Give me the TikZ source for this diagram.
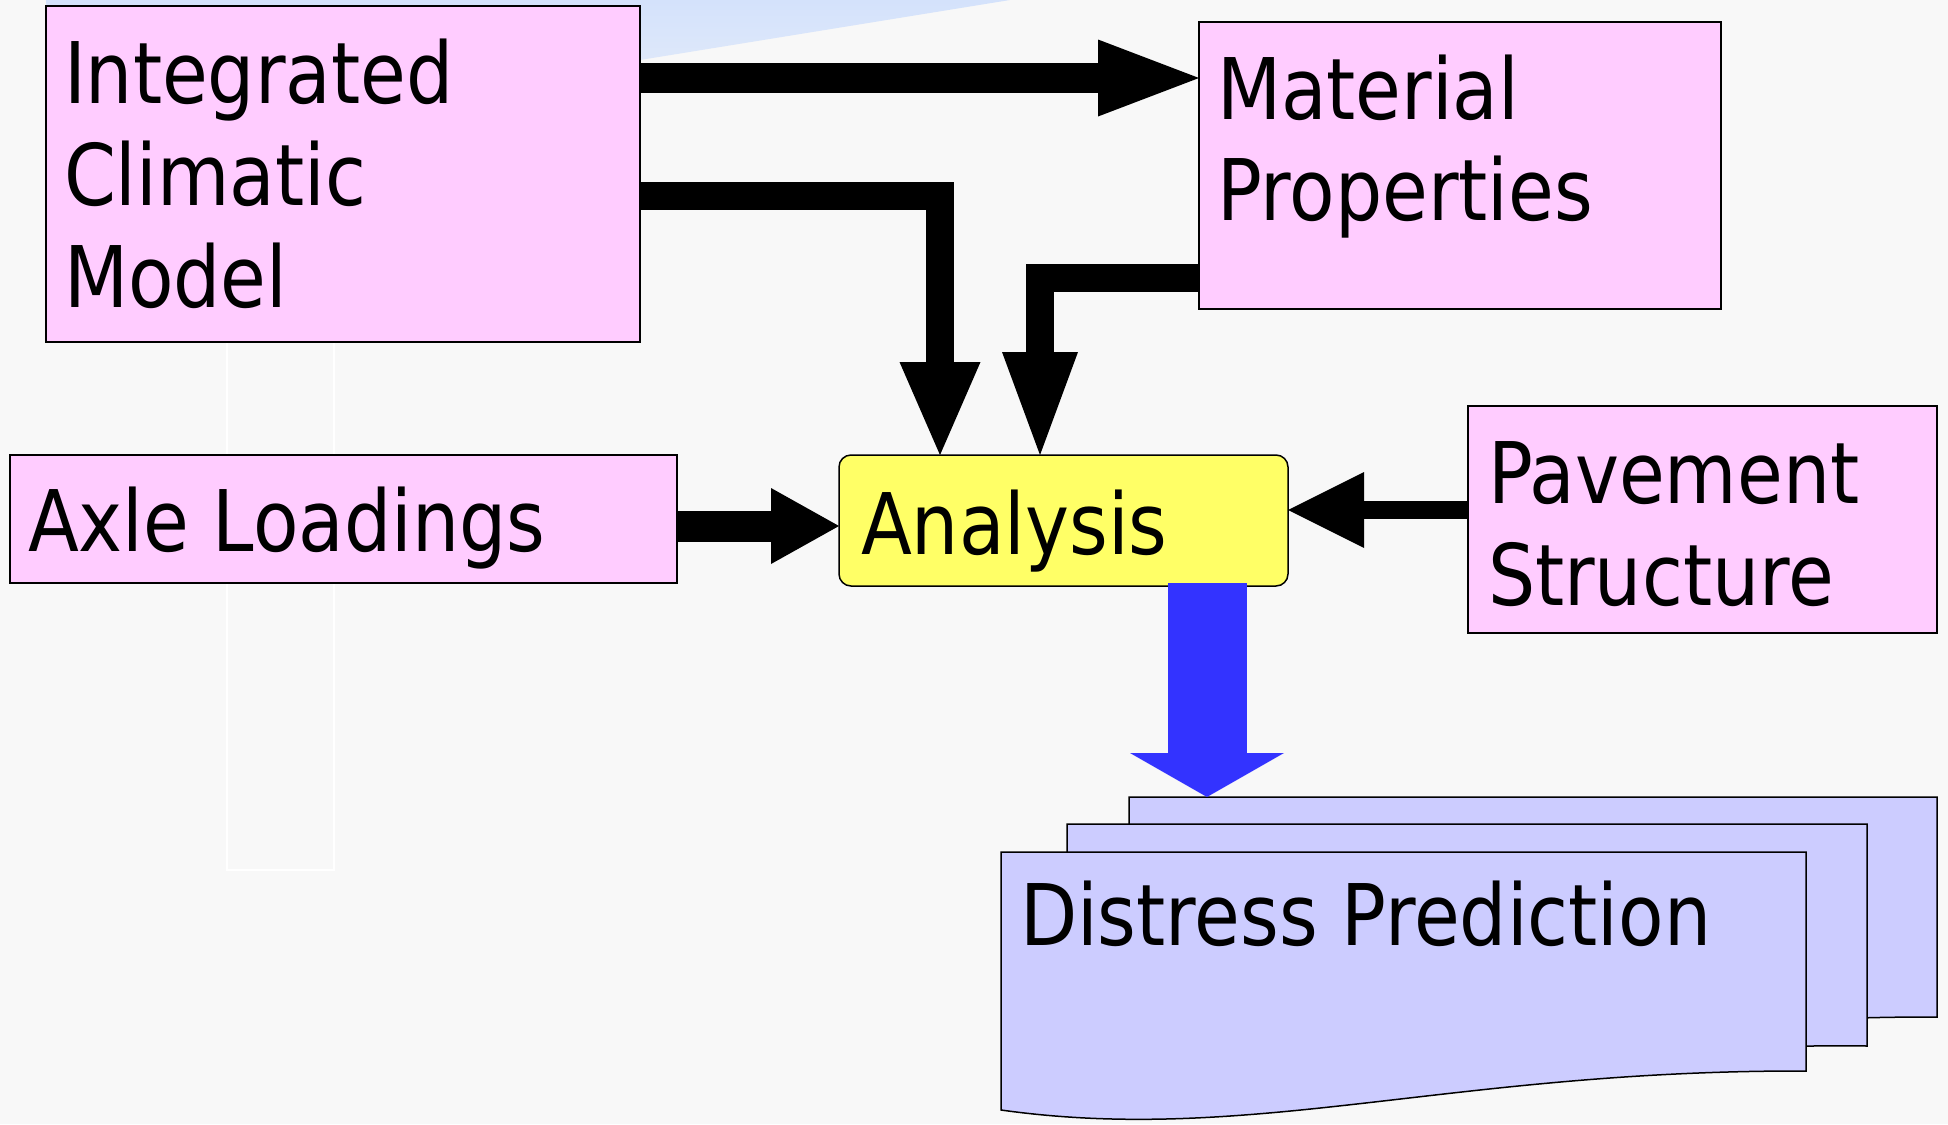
\documentclass[tikz,border=0pt]{standalone}
\usepackage{fontspec}
\setmainfont[FakeStretch=0.875]{DejaVu Sans}
\usetikzlibrary{arrows.meta}
\definecolor{bgc}{HTML}{F8F8F8}
\definecolor{pinkc}{HTML}{FFCCFF}
\definecolor{yelc}{HTML}{FFFF66}
\definecolor{docc}{HTML}{CCCCFF}
\definecolor{bluec}{HTML}{3333FF}
\definecolor{skyc}{HTML}{D4E2FB}
\tikzset{
  box/.style={draw=black, line width=0.75pt, fill=pinkc, rectangle, anchor=north west, inner sep=0pt, outer sep=0pt},
  anabox/.style={draw=black, line width=0.75pt, fill=yelc, rectangle, rounded corners=6pt, anchor=north west, inner sep=0pt, outer sep=0pt},
  txt/.style={anchor=base west, inner sep=0pt, outer sep=0pt, font=\fontsize{42.5pt}{51pt}\selectfont},
  docpage/.style={draw=black, line width=0.75pt, fill=docc, line join=miter},
  blk/.style={draw=black, line join=miter, line cap=butt},
}
\begin{document}
\begin{tikzpicture}[x=0.5pt, y=-0.5pt]
\useasboundingbox (0,0) rectangle (1948,1124);
\fill[bgc] (0,0) rectangle (1948,1124);
% decorative background
\shade[top color=skyc, bottom color=bgc] (168,0) -- (1010,0) -- (640,60) -- (60,230) -- (46,0) -- cycle;
\draw[white, line width=1pt] (227,300) rectangle (334,870);

% boxes
\node[box, minimum width=297pt, minimum height=168pt] (icm) at (46,6) {};
\node[box, minimum width=261pt, minimum height=143.5pt] (mat) at (1199,22) {};
\node[box, minimum width=333.5pt, minimum height=64pt] (axle) at (10,455) {};
\node[anabox, minimum width=224.5pt, minimum height=65.5pt] (ana) at (839,455) {};
\node[box, minimum width=234.5pt, minimum height=113.5pt] (pav) at (1468,406) {};

% texts
\node[txt] (t1) at (64,103) {Integrated};
\node[txt] (t2) at (64,205) {Climatic};
\node[txt] (t3) at (64,307) {Model};
\node[txt] (t4) at (1217,119) {Material};
\node[txt] (t5) at (1217,220) {Properties};
\node[txt] (t6) at (28,551) {Axle Loadings};
\node[txt] (t7) at (861,554) {Analysis};
\node[txt] (t8) at (1488,503) {Pavement};
\node[txt] (t9) at (1488,605) {Structure};

% helper coordinates
\coordinate (y1) at (0,78);
\coordinate (y2) at (0,196);
\coordinate (x2) at (940,0);
\coordinate (y3) at (0,278);
\coordinate (x3) at (1040,0);
\coordinate (y4) at (0,526);
\coordinate (y5) at (0,510);

% black arrows
\draw[blk, line width=15pt, -{Triangle[length=50.5pt,width=38.5pt,line width=0pt]}]
  (icm.east |- y1) -- (mat.west |- y1);
\draw[blk, line width=14pt, -{Triangle[length=46.5pt,width=40.5pt,line width=0pt]}]
  (icm.east |- y2) -| (ana.north -| x2);
\draw[blk, line width=14pt, -{Triangle[length=51.5pt,width=38pt,line width=0pt]}]
  (mat.west |- y3) -| (ana.north -| x3);
\draw[blk, line width=15.5pt, -{Triangle[length=34pt,width=38pt,line width=0pt]}]
  (axle.east |- y4) -- (ana.west |- y4);
\draw[blk, line width=9pt, -{Triangle[length=38pt,width=38pt,line width=0pt]}]
  (pav.west |- y5) -- (ana.east |- y5);

% distress pages
\draw[docpage] (1129,797) -- (1937,797) -- (1937,1017) .. controls (1580,1016) and (1380,1091) .. (1129,1056) -- cycle;
\draw[docpage] (1067,824) -- (1867,824) -- (1867,1046) .. controls (1516,1042) and (1316,1117) .. (1067,1082) -- cycle;
\draw[docpage] (1001,852) -- (1806,852) -- (1806,1071) .. controls (1450,1070) and (1250,1145) .. (1001,1110) -- cycle;
\coordinate (dtop) at (1207,797);
\coordinate (astart) at (1207,583);
\node[txt] (t10) at (1020,945) {Distress Prediction};

% blue arrow
\draw[draw=bluec, line width=39.5pt, line cap=butt, -{Triangle[length=22pt,width=77pt,line width=0pt]}, bluec]
  (astart) -- (dtop);
\end{tikzpicture}
\end{document}
